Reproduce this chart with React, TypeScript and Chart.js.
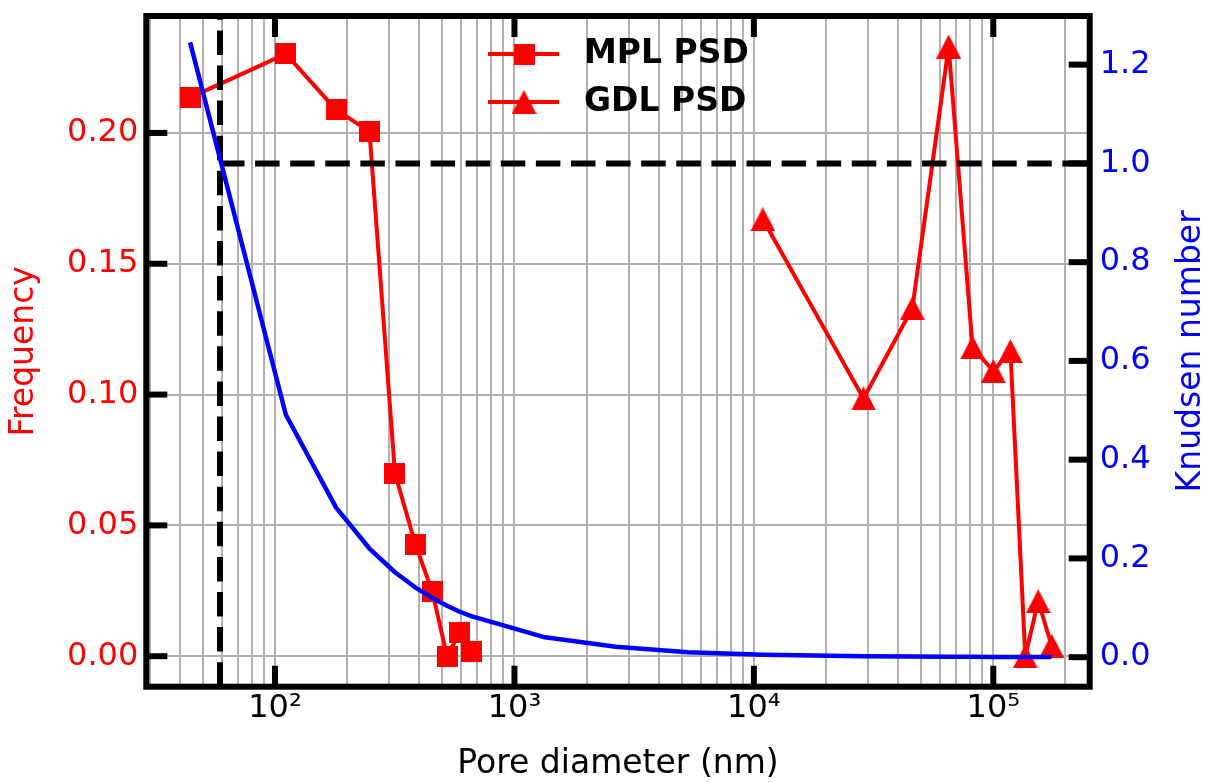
import React, { useEffect, useRef } from 'react';
import { Chart, registerables } from 'chart.js';

Chart.register(...registerables);

// ---------- data ----------
const mplDiameter = [44.2, 111, 180, 248, 317, 386, 454, 523, 591, 660];
const mplFrequency = [0.2135, 0.2302, 0.2088, 0.2006, 0.0698, 0.0427, 0.0246, 0.0, 0.0091, 0.0018];

const gdlDiameter = [10900, 28700, 45900, 65100, 81900, 100000, 117900, 136000, 154000, 175300];
const gdlFrequency = [0.167, 0.0985, 0.133, 0.233, 0.118, 0.109, 0.1166, 0.0, 0.021, 0.004];

const knudsenDiameter = [44.2, 111, 180, 248, 317, 386, 454, 523, 591, 660, 1320, 2650, 5300, 10900, 28700, 45900, 65100, 81900, 100000, 117900, 136000, 154000, 175300];
const knudsenNumber = [1.245, 0.491, 0.303, 0.22, 0.172, 0.141, 0.12, 0.104, 0.092, 0.083, 0.041, 0.021, 0.01, 0.005, 0.0019, 0.0012, 0.0008, 0.0007, 0.0005, 0.0005, 0.0004, 0.0004, 0.0003];

const thresholdDiameter = 58.9;
const thresholdKnudsen = 1.0;

const seriesLabels = ['MPL PSD', 'GDL PSD'];

// ---------- axes ----------
const xMajorTicks = [100, 1000, 10000, 100000];
const xTickLabels = ['10²', '10³', '10⁴', '10⁵'];
const xGridDecades = [10, 100, 1000, 10000, 100000];
const xGridMultipliers = [1, 2, 3, 4, 5, 6, 7, 8, 9];

const freqTicks = [0, 0.05, 0.1, 0.15, 0.2];
const freqTickLabels = ['0.00', '0.05', '0.10', '0.15', '0.20'];
const knTicks = [0, 0.2, 0.4, 0.6, 0.8, 1.0, 1.2];
const knTickLabels = ['0.0', '0.2', '0.4', '0.6', '0.8', '1.0', '1.2'];

const xMin = 29.0;
const xMax = 252700;
const freqMin = -0.01166;
const freqMax = 0.2447;
const knMin = -0.0598;
const knMax = 1.2985;

const FONT = '"DejaVu Sans", "Noto Sans", sans-serif';
const RED = '#ff0000';
const BLUE = '#0000ff';
const W = 1212;
const H = 782;

function makeSquare(size: number, color: string) {
  const c = document.createElement('canvas');
  c.width = size;
  c.height = size;
  const g = c.getContext('2d')!;
  g.fillStyle = color;
  g.fillRect(0, 0, size, size);
  return c;
}

function makeTriangle(w: number, h: number, color: string) {
  const c = document.createElement('canvas');
  c.width = w;
  c.height = h;
  const g = c.getContext('2d')!;
  g.fillStyle = color;
  g.beginPath();
  g.moveTo(w / 2, 0);
  g.lineTo(w, h);
  g.lineTo(0, h);
  g.closePath();
  g.fill();
  return c;
}

function zeroPadding(s: any) {
  s.paddingTop = 0;
  s.paddingBottom = 0;
  s.paddingLeft = 0;
  s.paddingRight = 0;
}

const frameTicksPlugin = {
  id: 'frameTicks',
  afterDatasetsDraw(chart: any) {
    const ctx = chart.ctx;
    const { left, right, top, bottom } = chart.chartArea;
    const xs = chart.scales.x;
    const yl = chart.scales.y;
    const yr = chart.scales.yR;
    const len = 21;
    ctx.save();
    ctx.strokeStyle = '#000';
    ctx.lineCap = 'butt';
    ctx.lineWidth = 6;
    xMajorTicks.forEach((v) => {
      const px = xs.getPixelForValue(v);
      ctx.beginPath();
      ctx.moveTo(px, bottom);
      ctx.lineTo(px, bottom - len);
      ctx.moveTo(px, top);
      ctx.lineTo(px, top + len);
      ctx.stroke();
    });
    freqTicks.forEach((v) => {
      const py = yl.getPixelForValue(v);
      ctx.beginPath();
      ctx.moveTo(left, py);
      ctx.lineTo(left + len, py);
      ctx.stroke();
    });
    knTicks.forEach((v) => {
      const py = yr.getPixelForValue(v);
      ctx.beginPath();
      ctx.moveTo(right, py);
      ctx.lineTo(right - len, py);
      ctx.stroke();
    });
    ctx.lineWidth = 6;
    ctx.lineJoin = 'miter';
    ctx.strokeRect(left, top, right - left, bottom - top);
    ctx.restore();
  },
  afterDraw(chart: any) {
    const ctx = chart.ctx;
    const { top, bottom } = chart.chartArea;
    ctx.save();
    ctx.fillStyle = BLUE;
    ctx.font = `33px ${FONT}`;
    ctx.textAlign = 'center';
    ctx.textBaseline = 'alphabetic';
    ctx.translate(W - 12, (top + bottom) / 2);
    ctx.rotate(-Math.PI / 2);
    ctx.fillText('Knudsen number', 0, 0);
    ctx.restore();

    const markers = chart.$legendMarkers;
    const rows = [54, 102];
    ctx.save();
    for (let i = 0; i < 2; i++) {
      const y = rows[i];
      ctx.strokeStyle = RED;
      ctx.lineWidth = 4;
      ctx.beginPath();
      ctx.moveTo(488, y);
      ctx.lineTo(559, y);
      ctx.stroke();
      const m = markers[i];
      ctx.drawImage(m, 524 - m.width / 2, y - m.height / 2);
      ctx.fillStyle = '#000';
      ctx.font = `bold 33px ${FONT}`;
      ctx.textAlign = 'left';
      ctx.textBaseline = 'middle';
      ctx.fillText(seriesLabels[i], 584, y);
    }
    ctx.restore();
  },
};

export default function App() {
  const ref = useRef<HTMLCanvasElement | null>(null);

  useEffect(() => {
    const canvas = ref.current;
    if (!canvas) return;
    const square = makeSquare(21, RED);
    const triangle = makeTriangle(25, 24, RED);

    const xGrid: number[] = [];
    xGridDecades.forEach((d) =>
      xGridMultipliers.forEach((m) => {
        const v = d * m;
        if (v >= xMin && v <= xMax) xGrid.push(v);
      })
    );

    const chart: any = new Chart(canvas, {
      type: 'scatter',
      data: {
        datasets: [
          {
            label: 'Knudsen number',
            data: knudsenDiameter.map((x, i) => ({ x, y: knudsenNumber[i] })),
            yAxisID: 'yR',
            showLine: true,
            borderColor: BLUE,
            borderWidth: 4.5,
            borderJoinStyle: 'round',
            pointRadius: 0,
            order: 0,
          },
          {
            label: 'threshold vertical',
            data: [
              { x: thresholdDiameter, y: knMin },
              { x: thresholdDiameter, y: knMax },
            ],
            yAxisID: 'yR',
            showLine: true,
            borderColor: '#000',
            borderWidth: 6,
            borderDash: [24.5, 10.6],
            pointRadius: 0,
            order: 1,
          },
          {
            label: 'threshold horizontal',
            data: [
              { x: thresholdDiameter, y: thresholdKnudsen },
              { x: xMax, y: thresholdKnudsen },
            ],
            yAxisID: 'yR',
            showLine: true,
            borderColor: '#000',
            borderWidth: 6,
            borderDash: [24.5, 10.6],
            pointRadius: 0,
            order: 1,
          },
          {
            label: seriesLabels[1],
            data: gdlDiameter.map((x, i) => ({ x, y: gdlFrequency[i] })),
            yAxisID: 'y',
            showLine: true,
            borderColor: RED,
            borderWidth: 4,
            borderJoinStyle: 'round',
            pointStyle: triangle,
            pointRadius: 12,
            order: 2,
          },
          {
            label: seriesLabels[0],
            data: mplDiameter.map((x, i) => ({ x, y: mplFrequency[i] })),
            yAxisID: 'y',
            showLine: true,
            borderColor: RED,
            borderWidth: 4,
            borderJoinStyle: 'round',
            pointStyle: square,
            pointRadius: 11,
            order: 3,
          },
        ],
      },
      options: {
        responsive: false,
        animation: false,
        events: [],
        layout: { padding: { top: 12.3, left: 0, right: 0, bottom: 0 } },
        plugins: {
          legend: { display: false },
          tooltip: { enabled: false },
        },
        scales: {
          x: {
            type: 'logarithmic',
            position: 'bottom',
            min: xMin,
            max: xMax,
            afterBuildTicks: (s: any) => {
              s.ticks = xGrid.map((v) => ({ value: v }));
            },
            afterFit: (s: any) => {
              s.height = H - 686.7;
              zeroPadding(s);
            },
            grid: { color: '#b0b0b0', lineWidth: 2, drawTicks: false },
            border: { display: false },
            ticks: {
              autoSkip: false,
              maxRotation: 0,
              minRotation: 0,
              padding: 6,
              color: '#000',
              font: { family: FONT, size: 32, lineHeight: 1 },
              callback: (v: any) => {
                const idx = xMajorTicks.findIndex((t) => Math.abs(t - Number(v)) / t < 1e-6);
                return idx >= 0 ? xTickLabels[idx] : '';
              },
            },
            title: {
              display: true,
              text: 'Pore diameter (nm)',
              color: '#000',
              font: { family: FONT, size: 33, lineHeight: 1 },
              padding: { top: 0, bottom: 1.5 },
            },
          },
          y: {
            position: 'left',
            min: freqMin,
            max: freqMax,
            afterBuildTicks: (s: any) => {
              s.ticks = freqTicks.map((v) => ({ value: v }));
            },
            afterFit: (s: any) => {
              s.width = 146.3;
              zeroPadding(s);
            },
            grid: { color: '#b0b0b0', lineWidth: 2, drawTicks: false },
            border: { display: false },
            ticks: {
              padding: 8,
              color: RED,
              font: { family: FONT, size: 32, lineHeight: 1 },
              callback: (v: any) => {
                const idx = freqTicks.findIndex((t) => Math.abs(t - Number(v)) < 1e-9);
                return idx >= 0 ? freqTickLabels[idx] : '';
              },
            },
            title: {
              display: true,
              text: 'Frequency',
              color: RED,
              font: { family: FONT, size: 33, lineHeight: 1 },
              padding: { top: 8, bottom: 0 },
            },
          },
          yR: {
            position: 'right',
            min: knMin,
            max: knMax,
            afterBuildTicks: (s: any) => {
              s.ticks = knTicks.map((v) => ({ value: v }));
            },
            afterFit: (s: any) => {
              s.width = W - 1089.7;
              zeroPadding(s);
            },
            grid: { display: false, drawTicks: false },
            border: { display: false },
            ticks: {
              padding: 10,
              color: BLUE,
              font: { family: FONT, size: 32, lineHeight: 1 },
              callback: (v: any) => {
                const idx = knTicks.findIndex((t) => Math.abs(t - Number(v)) < 1e-9);
                return idx >= 0 ? knTickLabels[idx] : '';
              },
            },
            title: { display: false },
          },
        },
      },
      plugins: [
        {
          id: 'markersInit',
          beforeInit(c: any) {
            c.$legendMarkers = [square, triangle];
          },
        },
        frameTicksPlugin,
      ],
    } as any);

    return () => {
      chart.destroy();
    };
  }, []);

  return (
    <div style={{ position: 'fixed', left: 0, top: 0, width: W, height: H, background: '#fff' }}>
      <canvas ref={ref} width={W} height={H} style={{ display: 'block', width: W, height: H }} />
    </div>
  );
}
